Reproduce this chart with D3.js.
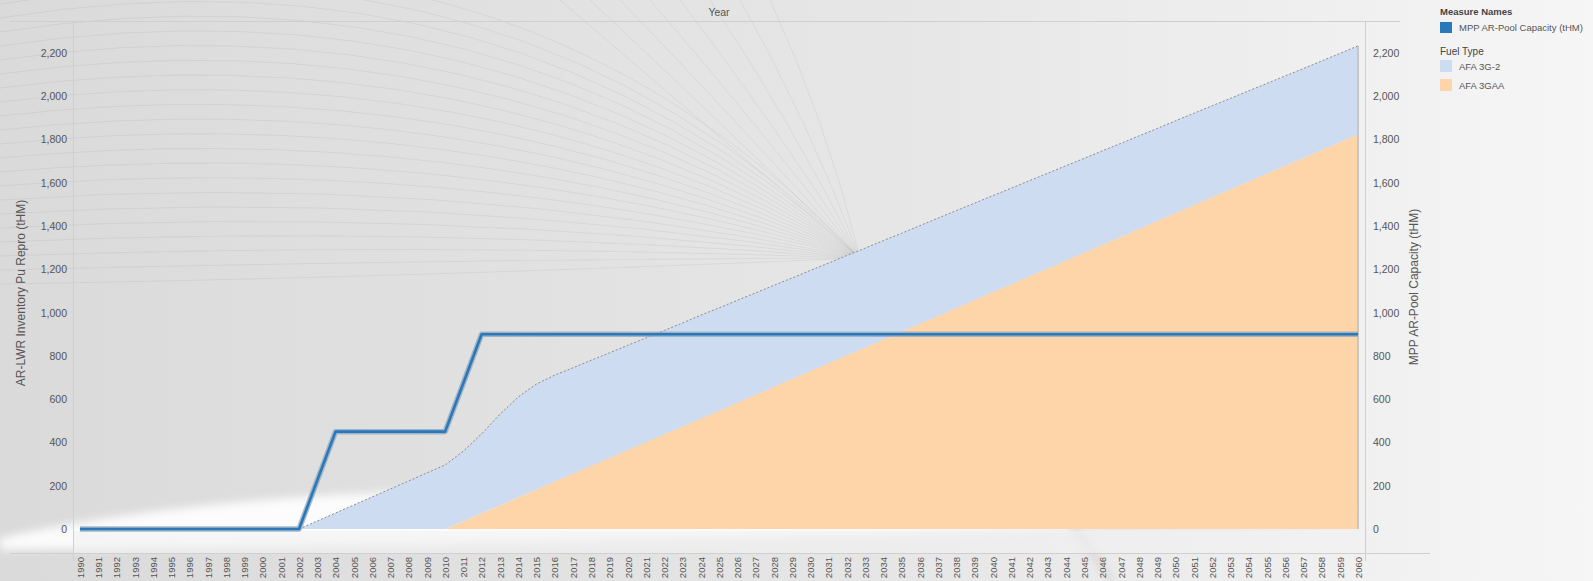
<!DOCTYPE html>
<html>
<head>
<meta charset="utf-8">
<script src="https://cdn.jsdelivr.net/npm/d3@7"></script>
<style>
  html, body { margin: 0; padding: 0; background: #ececec; }
  svg { display: block; font-family: "Liberation Sans", Arial, sans-serif; }
</style>
</head>
<body>
<svg id="chart" width="1593" height="581"></svg>
<script>
// Years on the x axis
const years = d3.range(1990, 2061);

// Fuel type inventories (tHM), stacked: AFA 3GAA at the bottom, AFA 3G-2 on top
const afa3gaa = [
  0,0,0,0,0,0,0,0,0,0,            // 1990-1999
  0,0,0,0,0,0,0,0,0,0,            // 2000-2009
  0,36,73,109,146,182,219,255,292,328,          // 2010-2019
  365,401,438,474,511,547,584,620,657,693,      // 2020-2029
  730,766,803,839,876,912,949,985,1022,1058,    // 2030-2039
  1095,1131,1168,1204,1241,1277,1314,1350,1387,1423, // 2040-2049
  1460,1496,1533,1569,1606,1642,1679,1715,1752,1788, // 2050-2059
  1825                                           // 2060
];
const afa3g2 = [
  0,0,0,0,0,0,0,0,0,0,            // 1990-1999
  0,0,0,37,74,111,148,185,222,259,              // 2000-2009
  296,324,367,421,464,488,492,490,488,486,      // 2010-2019
  484,482,480,478,477,475,473,471,469,467,      // 2020-2029
  465,463,461,459,457,455,453,452,450,448,      // 2030-2039
  446,444,442,440,438,436,434,432,430,428,      // 2040-2049
  427,425,423,421,419,417,415,413,411,410,      // 2050-2059
  408                                            // 2060
];

// MPP AR-Pool Capacity (tHM)
const poolCapacity = [
  0,0,0,0,0,0,0,0,0,0,            // 1990-1999
  0,0,0,225,450,450,450,450,450,450,            // 2000-2009
  450,675,900,900,900,900,900,900,900,900,      // 2010-2019
  900,900,900,900,900,900,900,900,900,900,      // 2020-2029
  900,900,900,900,900,900,900,900,900,900,      // 2030-2039
  900,900,900,900,900,900,900,900,900,900,      // 2040-2049
  900,900,900,900,900,900,900,900,900,900,      // 2050-2059
  900                                            // 2060
];

const yTicks = [0, 200, 400, 600, 800, 1000, 1200, 1400, 1600, 1800, 2000, 2200];

const fuelTypes = ["AFA 3G-2", "AFA 3GAA"];
const fuelColors = ["#cddcf1", "#fed4a9"];
const lineColor = "#2a78b8";

const svg = d3.select("#chart");
const W = 1593, H = 581;
const plotL = 73, plotR = 1365, plotT = 22, plotB = 553;

// ---- backdrop ----
const defs = svg.append("defs");
const bg = defs.append("linearGradient").attr("id", "bg").attr("x1", "0").attr("x2", "1").attr("y1", "0").attr("y2", "0");
bg.append("stop").attr("offset", "0").attr("stop-color", "#dadada");
bg.append("stop").attr("offset", "0.55").attr("stop-color", "#e6e6e6");
bg.append("stop").attr("offset", "0.85").attr("stop-color", "#f0f0f0");
bg.append("stop").attr("offset", "1").attr("stop-color", "#f6f6f6");
const soft = defs.append("filter").attr("id", "soft").attr("x", "-20%").attr("y", "-50%").attr("width", "140%").attr("height", "200%");
soft.append("feGaussianBlur").attr("stdDeviation", 4);

svg.append("rect").attr("width", W).attr("height", H).attr("fill", "url(#bg)");

// sweeping guide arcs in the backdrop
const arcs = svg.append("g").attr("fill", "none").attr("stroke", "#000").attr("stroke-opacity", 0.05).attr("stroke-width", 1);
d3.range(22).forEach(i => {
  const y0 = -10 + i * 14;
  arcs.append("path").attr("d", `M0,${y0} Q${520 - i * 6},${y0 - 90 + i * 4} 860,258`);
});
d3.range(8).forEach(i => {
  arcs.append("path").attr("d", `M${560 + i * 30},0 Q${700 + i * 18},120 860,258`);
});

// soft light sweep near the floor of the plot
svg.append("path")
  .attr("d", "M0,538 C180,498 420,484 640,492 C860,500 1000,514 1110,526 C900,536 520,544 0,550 Z")
  .attr("fill", "#ffffff").attr("fill-opacity", 0.9).attr("filter", "url(#soft)");
svg.append("line").attr("x1", 1070).attr("y1", 521).attr("x2", 1112).attr("y2", 581)
  .attr("stroke", "#9a9a9a").attr("stroke-opacity", 0.5).attr("stroke-width", 3).attr("filter", "url(#soft)");

// ---- scales ----
const x = d3.scalePoint().domain(years).range([plotL, plotR]).padding(0.38);
const y = d3.scaleLinear().domain([0, 2200]).range([529, 53]);

// ---- frame ----
const frame = svg.append("g").attr("stroke", "#cfcfcf").attr("stroke-width", 1).attr("fill", "none");
frame.append("line").attr("x1", 10).attr("x2", 1400).attr("y1", plotT - 0.5).attr("y2", plotT - 0.5);
frame.append("line").attr("x1", 10).attr("x2", 1430).attr("y1", plotB + 0.5).attr("y2", plotB + 0.5);
frame.append("line").attr("x1", plotL + 0.5).attr("x2", plotL + 0.5).attr("y1", plotT).attr("y2", plotB + 8);
frame.append("line").attr("x1", plotR + 0.5).attr("x2", plotR + 0.5).attr("y1", plotT).attr("y2", plotB + 8);
svg.append("rect").attr("x", plotL + 1).attr("y", 531).attr("width", plotR - plotL - 1).attr("height", plotB - 531)
  .attr("fill", "#f2f2f2").attr("fill-opacity", 0.6);

// ---- stacked areas ----
const rows = years.map((yr, i) => ({ year: yr, "AFA 3GAA": afa3gaa[i], "AFA 3G-2": afa3g2[i] }));
const stacked = d3.stack().keys(["AFA 3GAA", "AFA 3G-2"])(rows);
const area = d3.area().x(d => x(d.data.year)).y0(d => y(d[0])).y1(d => y(d[1]));
const colorOf = { "AFA 3G-2": fuelColors[0], "AFA 3GAA": fuelColors[1] };

svg.append("g").selectAll("path").data(stacked).join("path")
  .attr("d", area).attr("fill", s => colorOf[s.key]);

// dotted upper edge of the stack
const topLine = d3.line().x(d => x(d.data.year)).y(d => y(d[1]));
const totalSeries = stacked[1].filter(d => d.data.year >= 2002);
svg.append("path").attr("d", topLine(totalSeries)).attr("fill", "none")
  .attr("stroke", "#8a8a8a").attr("stroke-width", 1).attr("stroke-dasharray", "2,2");
const last = stacked[1][stacked[1].length - 1];
svg.append("line").attr("x1", x(last.data.year)).attr("x2", x(last.data.year)).attr("y1", y(last[1])).attr("y2", y(0))
  .attr("stroke", "#bdbdbd").attr("stroke-width", 1.5);

// ---- capacity line ----
const capLine = d3.line().x((d, i) => x(years[i])).y(d => y(d));
svg.append("path").attr("d", capLine(poolCapacity)).attr("fill", "none")
  .attr("stroke", "#8fa9c2").attr("stroke-opacity", 0.8).attr("stroke-width", 5.5).attr("stroke-linejoin", "round");
svg.append("path").attr("d", capLine(poolCapacity)).attr("fill", "none")
  .attr("stroke", lineColor).attr("stroke-width", 2.6).attr("stroke-linejoin", "round");

// ---- axes ----
const fmt = d3.format(",");
const yLeft = svg.append("g").attr("transform", `translate(${plotL - 6},0)`)
  .call(d3.axisLeft(y).tickValues(yTicks).tickFormat(fmt).tickSize(0).tickPadding(0));
const yRight = svg.append("g").attr("transform", `translate(${plotR + 8},0)`)
  .call(d3.axisRight(y).tickValues(yTicks).tickFormat(fmt).tickSize(0).tickPadding(0));
[yLeft, yRight].forEach(g => {
  g.select(".domain").remove();
  g.selectAll("text").attr("font-size", 10.5).attr("fill", "#555").attr("font-family", "Liberation Sans, Arial, sans-serif");
});

const xAxis = svg.append("g").attr("transform", `translate(0,${plotB + 3})`)
  .call(d3.axisBottom(x).tickSize(0).tickPadding(0));
xAxis.select(".domain").remove();
xAxis.selectAll("text")
  .attr("font-size", 9.5).attr("fill", "#555").attr("font-family", "Liberation Sans, Arial, sans-serif")
  .attr("transform", "rotate(-90)").attr("text-anchor", "end")
  .attr("x", -1).attr("y", 0).attr("dy", "0.35em");

// ---- titles ----
svg.append("text").attr("x", 719).attr("y", 16).attr("text-anchor", "middle")
  .attr("font-size", 10.5).attr("fill", "#555").text("Year");
svg.append("text").attr("transform", "translate(25,293) rotate(-90)").attr("text-anchor", "middle")
  .attr("font-size", 12).attr("fill", "#555").text("AR-LWR Inventory Pu Repro (tHM)");
svg.append("text").attr("transform", "translate(1418,287) rotate(-90)").attr("text-anchor", "middle")
  .attr("font-size", 12).attr("fill", "#555").text("MPP AR-Pool Capacity (tHM)");

// ---- legend ----
const lg = svg.append("g").attr("transform", "translate(1440,0)").attr("font-size", 9.5);
lg.append("text").attr("x", 0).attr("y", 15).attr("font-weight", "bold").attr("fill", "#444").text("Measure Names");
lg.append("rect").attr("x", 0).attr("y", 22).attr("width", 12).attr("height", 11).attr("fill", lineColor);
lg.append("text").attr("x", 19).attr("y", 31).attr("fill", "#555").text("MPP AR-Pool Capacity (tHM)");
lg.append("text").attr("x", 0).attr("y", 55).attr("fill", "#444").attr("font-size", 10).text("Fuel Type");
fuelTypes.forEach((f, i) => {
  lg.append("rect").attr("x", 0).attr("y", 60 + i * 19).attr("width", 12).attr("height", 12).attr("fill", fuelColors[i]);
  lg.append("text").attr("x", 19).attr("y", 70 + i * 19).attr("fill", "#555").text(f);
});
</script>
</body>
</html>
